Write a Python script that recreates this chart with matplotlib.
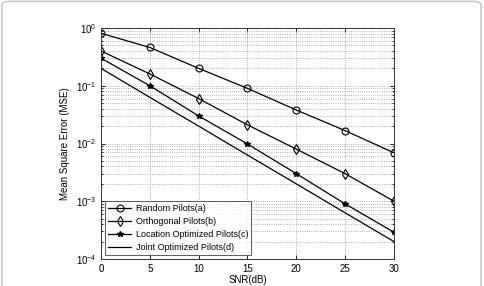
import numpy as np
import matplotlib.pyplot as plt
from matplotlib.patches import FancyBboxPatch
from matplotlib.ticker import LogLocator, NullFormatter

snr = [0, 5, 10, 15, 20, 25, 30]
mse_random = [0.81, 0.46, 0.20, 0.090, 0.038, 0.0167, 0.0069]
mse_orth = [0.40, 0.16, 0.060, 0.021, 0.0080, 0.0030, 0.0010]
mse_loc = [0.30, 0.10, 0.030, 0.0098, 0.0030, 0.00090, 0.00029]
mse_joint = [0.20, 0.063, 0.020, 0.0063, 0.0020, 0.00063, 0.00020]
labels = ['Random Pilots(a)', 'Orthogonal Pilots(b)',
          'Location Optimized Pilots(c)', 'Joint Optimized Pilots(d)']

plt.rcParams['font.family'] = ['Liberation Sans', 'DejaVu Sans']
fig = plt.figure(figsize=(4.85, 2.86), dpi=100)
fig.patches.append(FancyBboxPatch((0.004, -0.05), 0.988, 1.045, boxstyle='round,pad=0,rounding_size=0.015',
                                  transform=fig.transFigure, fill=False, edgecolor='#c8c8c8', linewidth=1.2))

ax = fig.add_axes([101/485, 1-259/286, (394-101)/485, (259-28)/286])
lw = 0.9
ax.semilogy(snr, mse_random, 'k-', marker='o', mfc='none', ms=5, lw=lw, mew=0.8, label=labels[0])
ax.semilogy(snr, mse_orth, 'k-', marker='d', mfc='none', ms=5.5, lw=lw, mew=0.8, label=labels[1])
ax.semilogy(snr, mse_loc, 'k-', marker='*', ms=4, lw=lw, label=labels[2])
ax.semilogy(snr, mse_joint, 'k-', lw=lw, label=labels[3])

ax.set_xlim(0, 30)
ax.set_ylim(1e-4, 1)
ax.set_xticks(snr)
ax.yaxis.set_major_locator(LogLocator(base=10, numticks=10))
ax.yaxis.set_minor_locator(LogLocator(base=10, subs=np.arange(2, 10), numticks=20))
ax.yaxis.set_minor_formatter(NullFormatter())
ax.grid(True, which='major', ls=':', color='#999999', lw=0.6)
ax.grid(True, which='minor', axis='y', ls=':', color='#999999', lw=0.6)
ax.tick_params(which='both', direction='in', top=True, right=True, labelsize=7, length=3, width=0.6)
ax.tick_params(which='minor', length=1.5)
for s in ax.spines.values():
    s.set_linewidth(0.7)
    s.set_color('#333333')

ax.set_xlabel('SNR(dB)', fontsize=7, labelpad=1)
ax.set_ylabel('Mean Square Error (MSE)', fontsize=7, labelpad=4)

leg = ax.legend(loc='lower left', fontsize=6.5, frameon=True, fancybox=False, edgecolor='#333333',
                handlelength=2.6, handletextpad=0.5, borderaxespad=0.4, labelspacing=0.45, borderpad=0.35)
leg.get_frame().set_linewidth(0.7)

fig.savefig('out.png', dpi=100)
